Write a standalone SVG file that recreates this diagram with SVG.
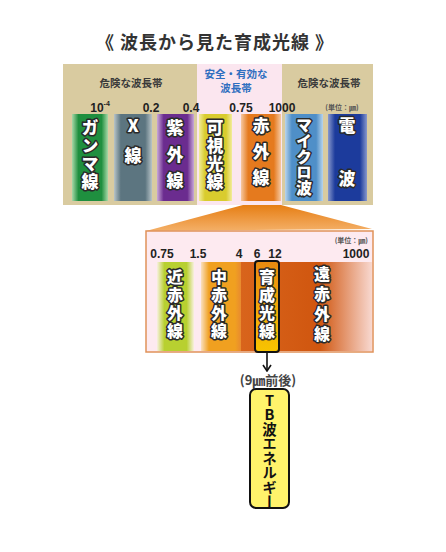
<svg xmlns="http://www.w3.org/2000/svg" width="446" height="552" viewBox="0 0 446 552">
<defs>
<style>
.jp{font-family:"Noto Sans CJK JP","Noto Sans",sans-serif;font-weight:bold}
.num{font-family:"Liberation Sans",Arial,sans-serif;font-weight:bold;fill:#222}
.vlab{font-family:"Noto Sans CJK JP",sans-serif;font-weight:900;fill:#fff;stroke:#2a2a2a;stroke-width:3;paint-order:stroke;stroke-linejoin:round;writing-mode:vertical-rl;text-orientation:upright}
.hdr{font-family:"Noto Sans CJK JP",sans-serif;font-weight:bold;font-size:10.5px;fill:#3a3a3a;text-anchor:middle}
</style>
<linearGradient id="gGreen" x1="0" x2="1"><stop offset="0" stop-color="#a8d8a8"/><stop offset="0.18" stop-color="#1f8f3f"/><stop offset="0.82" stop-color="#1f8f3f"/><stop offset="1" stop-color="#a8d8a8"/></linearGradient>
<linearGradient id="gGray" x1="0" x2="1"><stop offset="0" stop-color="#b8c4c8"/><stop offset="0.18" stop-color="#5c7580"/><stop offset="0.82" stop-color="#5c7580"/><stop offset="1" stop-color="#b8c4c8"/></linearGradient>
<linearGradient id="gPurple" x1="0" x2="1"><stop offset="0" stop-color="#c8a8d8"/><stop offset="0.18" stop-color="#6b2c8f"/><stop offset="0.82" stop-color="#6b2c8f"/><stop offset="1" stop-color="#c8a8d8"/></linearGradient>
<linearGradient id="gYellow" x1="0" x2="1"><stop offset="0" stop-color="#f2ec9c"/><stop offset="0.18" stop-color="#d9cc2e"/><stop offset="0.82" stop-color="#d9cc2e"/><stop offset="1" stop-color="#f2ec9c"/></linearGradient>
<linearGradient id="gOrange" x1="0" x2="1"><stop offset="0" stop-color="#f6c8a0"/><stop offset="0.18" stop-color="#e57a1e"/><stop offset="0.82" stop-color="#e57a1e"/><stop offset="1" stop-color="#f6c8a0"/></linearGradient>
<linearGradient id="gLBlue" x1="0" x2="1"><stop offset="0" stop-color="#b8d4ec"/><stop offset="0.18" stop-color="#4f8fc8"/><stop offset="0.82" stop-color="#4f8fc8"/><stop offset="1" stop-color="#b8d4ec"/></linearGradient>
<linearGradient id="gNavy" x1="0" x2="1"><stop offset="0" stop-color="#8898cc"/><stop offset="0.18" stop-color="#1c3b9c"/><stop offset="0.82" stop-color="#1c3b9c"/><stop offset="1" stop-color="#8898cc"/></linearGradient>
<linearGradient id="gNear" x1="0" x2="1"><stop offset="0" stop-color="#f8f0e0"/><stop offset="0.2" stop-color="#b8d030"/><stop offset="0.8" stop-color="#b8d030"/><stop offset="1" stop-color="#f8f0e0"/></linearGradient>
<linearGradient id="gMid" x1="0" x2="1"><stop offset="0" stop-color="#fae0c0"/><stop offset="0.2" stop-color="#f0a020"/><stop offset="0.85" stop-color="#f0a020"/><stop offset="1" stop-color="#e88a30"/></linearGradient>
<linearGradient id="gFar" x1="0" x2="1"><stop offset="0" stop-color="#d8641c"/><stop offset="0.6" stop-color="#d0560f"/><stop offset="1" stop-color="#f8d8d0"/></linearGradient>
<linearGradient id="gBox" x1="0" y1="0" x2="0" y2="1"><stop offset="0" stop-color="#e88a10"/><stop offset="1" stop-color="#f8c400"/></linearGradient>
<linearGradient id="gTrap" x1="0" y1="0" x2="0" y2="1"><stop offset="0" stop-color="#e67e14"/><stop offset="1" stop-color="#f4b068"/></linearGradient>
<marker id="arr" viewBox="0 0 10 10" refX="9" refY="5" markerWidth="10" markerHeight="10" markerUnits="userSpaceOnUse" orient="auto">
<polyline points="3,1 9,5 3,9" fill="none" stroke="#111" stroke-width="1.6"/>
</marker>
</defs>
<rect width="446" height="552" fill="#fff"/>

<text class="jp" x="215" y="49" font-size="18" letter-spacing="1" fill="#333" text-anchor="middle">《 波長から見た育成光線 》</text>

<g id="spectrum-panel">
<rect x="63" y="64" width="310" height="141" fill="#d9cba0"/>
<rect x="197" y="64" width="85" height="141" fill="#fbe6ef"/>
<text class="hdr" x="131" y="87">危険な波長帯</text>
<text class="hdr" x="329" y="87">危険な波長帯</text>
<text class="hdr" x="236" y="78" style="fill:#2f6fc0">安全・有効な</text>
<text class="hdr" x="236" y="92" style="fill:#2f6fc0">波長帯</text>
<text class="num" x="100" y="112" font-size="12" text-anchor="middle">10<tspan font-size="7" dy="-6">-4</tspan></text>
<text class="num" x="151" y="112" font-size="12" text-anchor="middle">0.2</text>
<text class="num" x="191" y="112" font-size="12" text-anchor="middle">0.4</text>
<text class="num" x="241" y="112" font-size="12" text-anchor="middle">0.75</text>
<text class="num" x="282" y="112" font-size="12" text-anchor="middle">1000</text>
<text class="jp" x="342" y="110" font-size="7" fill="#555" text-anchor="middle">(単位：㎛)</text>
</g>

<g id="bar-gamma">
<rect x="72" y="114" width="36" height="87" fill="url(#gGreen)"/>
<text class="vlab" x="90" y="119.5" font-size="17" letter-spacing="1">ガンマ線</text>
</g>
<g id="bar-x">
<rect x="114" y="114" width="38" height="87" fill="url(#gGray)"/>
<text class="vlab" x="133" y="117.5" font-size="17" letter-spacing="13">X線</text>
</g>
<g id="bar-uv">
<rect x="157" y="114" width="37" height="87" fill="url(#gPurple)"/>
<text class="vlab" x="175" y="119.5" font-size="17" letter-spacing="9.5">紫外線</text>
</g>
<g id="bar-visible">
<rect x="199" y="114" width="33" height="87" fill="url(#gYellow)"/>
<text class="vlab" x="215" y="119.5" font-size="17" letter-spacing="1">可視光線</text>
</g>
<g id="bar-ir">
<rect x="241" y="114" width="40" height="87" fill="url(#gOrange)"/>
<text class="vlab" x="261" y="117.5" font-size="17" letter-spacing="9">赤外線</text>
</g>
<g id="bar-micro">
<rect x="285" y="114" width="38" height="87" fill="url(#gLBlue)"/>
<text class="vlab" x="304" y="117" font-size="16" letter-spacing="-0.25">マイクロ波</text>
</g>
<g id="bar-radio">
<rect x="328" y="114" width="39" height="87" fill="url(#gNavy)"/>
<text class="vlab" x="347" y="117.5" font-size="17" letter-spacing="36">電波</text>
</g>

<g id="expand">
<polygon points="243,205 281,205 372,229 146,231" fill="url(#gTrap)"/>
</g>

<g id="ir-panel">
<rect x="146" y="231" width="227" height="121" fill="#fdeaf0" stroke="#e0925a" stroke-width="1.5"/>
<text class="jp" x="368" y="243" font-size="7" fill="#555" text-anchor="end">(単位：㎛)</text>
<text class="num" x="162" y="258" font-size="12" text-anchor="middle">0.75</text>
<text class="num" x="198" y="258" font-size="12" text-anchor="middle">1.5</text>
<text class="num" x="239" y="258" font-size="12" text-anchor="middle">4</text>
<text class="num" x="257" y="258" font-size="12" text-anchor="middle">6</text>
<text class="num" x="275" y="258" font-size="12" text-anchor="middle">12</text>
<text class="num" x="356" y="258" font-size="12" text-anchor="middle">1000</text>
</g>

<g id="bar-near">
<rect x="157" y="262" width="37" height="89" fill="url(#gNear)"/>
<text class="vlab" x="175" y="269" font-size="16" letter-spacing="2">近赤外線</text>
</g>
<g id="bar-mid">
<rect x="201" y="262" width="40" height="89" fill="url(#gMid)"/>
<text class="vlab" x="219" y="269" font-size="16" letter-spacing="2">中赤外線</text>
</g>
<g id="bar-far">
<rect x="241" y="262" width="131" height="89" fill="url(#gFar)"/>
<text class="vlab" x="322" y="266" font-size="16" letter-spacing="4">遠赤外線</text>
</g>
<g id="bar-growth">
<rect x="255" y="261" width="24" height="91" rx="3" fill="url(#gBox)" stroke="#111" stroke-width="2"/>
<text class="vlab" x="267" y="269" font-size="16" letter-spacing="2">育成光線</text>
</g>

<g id="connectors">
<line x1="267" y1="353" x2="267" y2="371" stroke="#111" stroke-width="1.6" marker-end="url(#arr)"/>
</g>

<g id="label-9um">
<text class="jp" x="268" y="385" font-size="13" fill="#444" text-anchor="middle">(9㎛前後)</text>
</g>

<g id="tb-box">
<rect x="250" y="389" width="39" height="119" rx="6" fill="#fff36b" stroke="#111" stroke-width="2"/>
<text x="269.5" y="451" font-family="Noto Sans CJK JP, sans-serif" font-weight="bold" font-size="14.5" fill="#111" text-anchor="middle" style="writing-mode:vertical-rl;text-orientation:upright">TB波エネルギー</text>
</g>
</svg>
